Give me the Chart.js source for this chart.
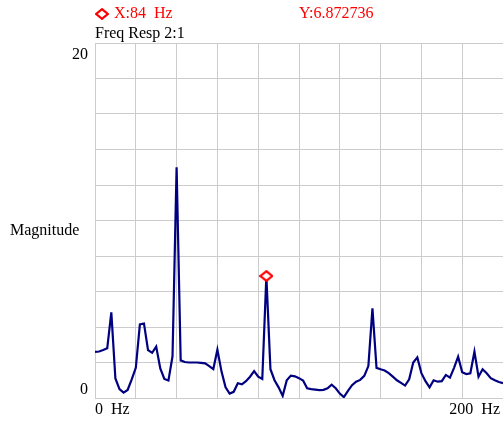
<!DOCTYPE html>
<html>
<head>
<meta charset="utf-8">
<script src="https://cdn.jsdelivr.net/npm/chart.js@4/dist/chart.umd.min.js"></script>
<style>
  html, body { margin: 0; padding: 0; background: #fff; }
  #grafico { display: block; }
</style>
</head>
<body>
<canvas id="grafico" width="503" height="424"></canvas>
<script>
const freqs = [0, 2, 4, 6, 8, 10, 12, 14, 16, 18, 20, 22, 24, 26, 28, 30, 32, 34, 36, 38,
  40, 42, 44, 46, 48, 50, 52, 54, 56, 58, 60, 62, 64, 66, 68, 70, 72, 74, 76, 78,
  80, 82, 84, 86, 88, 90, 92, 94, 96, 98, 100, 102, 104, 106, 108, 110, 112, 114, 116, 118,
  120, 122, 124, 126, 128, 130, 132, 134, 136, 138, 140, 142, 144, 146, 148, 150, 152, 154, 156, 158,
  160, 162, 164, 166, 168, 170, 172, 174, 176, 178, 180, 182, 184, 186, 188, 190, 192, 194, 196, 198, 200];
const magnitude = [2.6, 2.62, 2.7, 2.8, 4.83, 1.1, 0.5, 0.3, 0.45, 1.05, 1.7, 4.15, 4.2, 2.7, 2.55, 2.9, 1.67, 1.07, 0.98, 2.35,
  13.0, 2.12, 2.03, 2.0, 2.0, 2.0, 1.98, 1.95, 1.8, 1.63, 2.72, 1.5, 0.6, 0.25, 0.35, 0.83, 0.77, 0.95, 1.2, 1.52,
  1.2, 1.07, 6.872736, 1.62, 1.0, 0.6, 0.12, 1.0, 1.26, 1.22, 1.12, 0.98, 0.55, 0.5, 0.47, 0.44, 0.46, 0.55, 0.75, 0.55,
  0.25, 0.05, 0.4, 0.72, 0.92, 1.02, 1.25, 1.8, 5.05, 1.7, 1.62, 1.55, 1.4, 1.2, 1.0, 0.85, 0.7, 1.05, 2.0, 2.29,
  1.4, 0.95, 0.6, 1.0, 0.92, 0.95, 1.3, 1.15, 1.7, 2.33, 1.45, 1.35, 1.39, 2.61, 1.2, 1.62, 1.39, 1.12, 1.0, 0.9, 0.83];

// Cursor
const cursorFreq = [84];
const cursorMag = [6.872736];

// Rótulos dos eixos
const xTickValues = [0, 200];
const xTickLabels = ['0  Hz', '200  Hz'];
const yTickValues = [0, 20];
const yTickLabels = ['0', '20'];
const titulo = 'Freq Resp 2:1';
const tituloY = 'Magnitude';

const fonte = '16px "Liberation Serif", "Times New Roman", serif';

function losango(w, h) {
  const c = document.createElement('canvas');
  c.width = w; c.height = h;
  const g = c.getContext('2d');
  g.fillStyle = '#fff';
  g.strokeStyle = '#ff0000';
  g.lineWidth = 2.2;
  g.beginPath();
  g.moveTo(w / 2, 1.2);
  g.lineTo(w - 1.2, h / 2);
  g.lineTo(w / 2, h - 1.2);
  g.lineTo(1.2, h / 2);
  g.closePath();
  g.fill();
  g.stroke();
  return c;
}
const marcador = losango(14, 12);

const textos = {
  id: 'textos',
  afterDraw(chart) {
    const { ctx, chartArea, scales: { x, y } } = chart;
    ctx.save();
    ctx.font = fonte;
    ctx.textBaseline = 'middle';

    // leitura do cursor
    ctx.drawImage(marcador, 95, 8);
    ctx.fillStyle = '#ff0000';
    ctx.textAlign = 'left';
    ctx.fillText('X:' + cursorFreq[0] + '  Hz', 114, 14);
    ctx.fillText('Y:' + cursorMag[0], 299, 14);

    ctx.fillStyle = '#000';
    ctx.fillText(titulo, chartArea.left, 34);
    ctx.fillText(tituloY, 10, 231);

    // rótulos do eixo y
    ctx.textAlign = 'right';
    yTickValues.forEach((v, i) => {
      const py = y.getPixelForValue(v);
      ctx.fillText(yTickLabels[i], chartArea.left - 7, v === y.max ? py + 12 : py - 8);
    });

    // rótulos do eixo x
    xTickValues.forEach((v, i) => {
      const px = x.getPixelForValue(v);
      ctx.textAlign = v === x.min ? 'left' : 'right';
      ctx.fillText(xTickLabels[i], v === x.min ? px : px - 3, chartArea.bottom + 12);
    });
    ctx.restore();
  }
};

const ctx = document.getElementById('grafico').getContext('2d');
new Chart(ctx, {
  type: 'line',
  data: {
    datasets: [{
      label: 'Cursor',
      data: cursorFreq.map((f, i) => ({ x: f, y: cursorMag[i] })),
      showLine: false,
      pointStyle: marcador,
      pointRadius: 6,
      order: 0
    }, {
      label: 'Freq Resp 2:1',
      data: freqs.map((f, i) => ({ x: f, y: magnitude[i] })),
      borderColor: '#000080',
      borderWidth: 2.2,
      pointRadius: 0,
      tension: 0,
      fill: false,
      order: 1
    }]
  },
  options: {
    responsive: false,
    animation: false,
    events: [],
    layout: { autoPadding: false, padding: { left: 95, top: 43, right: 0, bottom: 26 } },
    plugins: { legend: { display: false }, tooltip: { enabled: false } },
    scales: {
      x: {
        type: 'linear', min: 0, max: 200,
        ticks: { display: false, stepSize: 20 },
        grid: { color: '#cccccc', drawTicks: false },
        border: { color: '#cccccc' }
      },
      y: {
        min: 0, max: 20,
        ticks: { display: false, stepSize: 2 },
        grid: { color: '#cccccc', drawTicks: false },
        border: { color: '#cccccc' }
      }
    }
  },
  plugins: [textos]
});
</script>
</body>
</html>
